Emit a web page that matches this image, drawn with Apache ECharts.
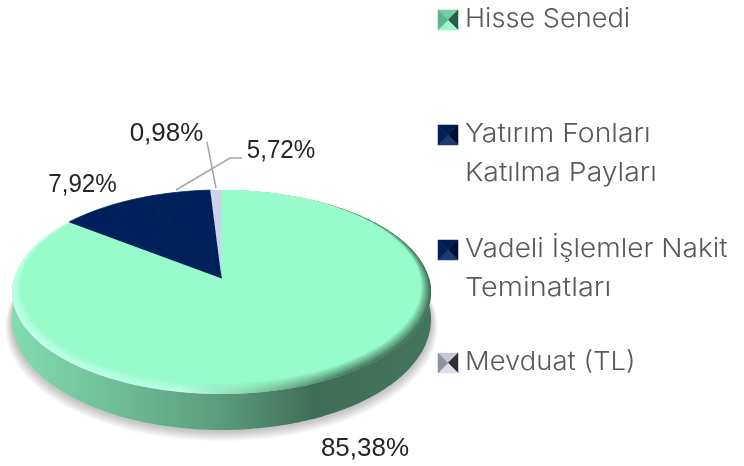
<!DOCTYPE html>
<html><head><meta charset="utf-8">
<style>html,body{margin:0;padding:0;background:#fff}#c{width:744px;height:466px}</style>
<script src="https://cdn.jsdelivr.net/npm/echarts@6/dist/echarts.min.js"></script>
</head><body><div id="c"></div>
<script>
const categories = ['Hisse Senedi', 'Yatırım Fonları\nKatılma Payları', 'Vadeli İşlemler Nakit\nTeminatları', 'Mevduat (TL)'];
const values = [85.38, 7.92, 5.72, 0.98];
const valueLabels = ['85,38%', '7,92%', '5,72%', '0,98%'];
const sliceColors = ['#98fbcb', '#00205b', '#00205b', '#cdd3ea'];
const iconColors = [
  ['#70cfa4', '#2b5a45', '#98f8c8', '#5fb48c'],
  ['#021c50', '#000f30', '#1d3a70', '#00205f'],
  ['#021c50', '#000f30', '#1d3a70', '#00205f'],
  ['#c5c8d0', '#2f3136', '#dde0ea', '#8f939c']
];
const labelPos = [[365, 449], [82.5, 185], [281, 151], [166.5, 133.5]];
const labelStretch = [1, 0.93, 0.93, 1];
const leaderLines = [null, null, [[176, 190], [230, 158], [242, 158]], [[207, 142], [216, 188]]];
const legendY = [19, 134, 249, 362];
const legendStretch = [[1.044], [1.09, 1.09], [1.076, 1.11], [1.055]];

const apex = [221.5, 278], persp = -0.137, A = 100.1, D = 207.5, bevelWidth = 0.085, bevelSteps = 14;
const total = values.reduce((a, b) => a + b, 0);
const wallDepth = v => 26 + 10 * Math.max(0, v);
function project(t, scale, depth) {
  const u = Math.sin(t), v = -Math.cos(t), w = 1 + persp * v, s = scale(v);
  return [apex[0] + D * u / w * s, apex[1] + (A * v / w + 14) * s - 14 + (depth ? depth(v) : 0)];
}
function ring(scale, depth) {
  const pts = [];
  for (let d = 0; d < 360; d += 1) pts.push(project(d * Math.PI / 180, scale, depth));
  return pts;
}
const none = () => 1;
const bevelScale = f => v => 1 - bevelWidth * f * (1 + v) / 2;
function baseItem() {
  const kids = [];
  for (let k = 10; k >= 1; k--) {
    kids.push({ type: 'polygon', shape: { points: ring(v => 1 + 0.0032 * k, v => wallDepth(v) + 1 + 0.6 * k) },
      style: { fill: '#000', opacity: 0.024 } });
  }
  const pts = [];
  for (let d = 90; d <= 270; d++) pts.push(project(d * Math.PI / 180, none));
  for (let d = 270; d >= 90; d--) pts.push(project(d * Math.PI / 180, none, wallDepth));
  kids.push({ type: 'polygon', shape: { points: pts }, style: {
    fill: new echarts.graphic.LinearGradient(0, 0, 1, 0, [
      { offset: 0, color: '#82dcb0' }, { offset: 0.25, color: '#6fbd96' },
      { offset: 0.5, color: '#5a9c7d' }, { offset: 0.72, color: '#3f6e58' },
      { offset: 1, color: '#44745c' }]) } });
  kids.push({ type: 'polygon', shape: { points: ring(none) }, style: {
    fill: new echarts.graphic.LinearGradient(0, 0, 1, 0, [
      { offset: 0, color: '#c4ffee' }, { offset: 0.4, color: '#bcffea' },
      { offset: 0.58, color: '#86cfa8' }, { offset: 0.8, color: '#44785f' },
      { offset: 1, color: '#3e6c56' }]) } });
  for (let k = 1; k <= bevelSteps; k++) {
    kids.push({ type: 'polygon', shape: { points: ring(bevelScale(k / bevelSteps)) },
      style: { fill: sliceColors[0], opacity: 1 / (bevelSteps + 1 - k) } });
  }
  return { type: 'group', children: kids };
}
function sliceItem(params) {
  const i = params.dataIndex;
  let before = 0;
  for (let j = 0; j < i; j++) before += values[j];
  const a0 = before / total * Math.PI * 2, a1 = (before + values[i]) / total * Math.PI * 2;
  const inset = i === 0 ? bevelScale(1) : none;
  const pts = [apex.slice()];
  const n = Math.max(2, Math.ceil((a1 - a0) / 0.01));
  for (let k = 0; k <= n; k++) pts.push(project(a0 + (a1 - a0) * k / n, inset));
  const kids = [{ type: 'polygon', shape: { points: pts },
    style: { fill: sliceColors[i], stroke: i === 1 || i === 2 ? sliceColors[i] : null, lineWidth: 0.8 } }];
  const lp = labelPos[i];
  kids.push({ type: 'text', z2: 5, x: lp[0], y: lp[1], scaleX: labelStretch[i],
    style: { text: valueLabels[i], x: 0, y: 0, fill: '#262626',
    font: '26px "Liberation Sans"', textAlign: 'center', textVerticalAlign: 'middle' } });
  if (leaderLines[i]) kids.push({ type: 'polyline', z2: 4, shape: { points: leaderLines[i] },
    style: { stroke: '#a6a6a6', lineWidth: 1.5, fill: null } });
  const ly = legendY[i], ic = iconColors[i], x0 = 438, s = 20, y0 = ly - 9;
  const c = [x0 + s / 2, y0 + s / 2];
  const corners = [[x0, y0], [x0 + s, y0], [x0 + s, y0 + s], [x0, y0 + s]];
  for (let q = 0; q < 4; q++) {
    kids.push({ type: 'polygon', shape: { points: [corners[q], corners[(q + 1) % 4], c] },
      style: { fill: ic[q], stroke: ic[q], lineWidth: 0.5 } });
  }
  categories[i].split('\n').forEach((line, li) => {
    kids.push({ type: 'text', x: 465, y: ly + li * 39, scaleX: legendStretch[i][li],
      style: { text: line, x: 0, y: 0, fill: '#595959',
      font: '300 26px Inter', textAlign: 'left', textVerticalAlign: 'middle' } });
  });
  return { type: 'group', children: kids };
}
const chart = echarts.init(document.getElementById('c'), null, { renderer: 'canvas' });
chart.setOption({
  animation: false,
  backgroundColor: '#ffffff',
  series: [
    { type: 'custom', coordinateSystem: 'none', silent: true, z: 1, data: [0], renderItem: baseItem },
    { type: 'custom', coordinateSystem: 'none', silent: true, z: 2, data: values, renderItem: sliceItem }
  ]
});
</script></body></html>
